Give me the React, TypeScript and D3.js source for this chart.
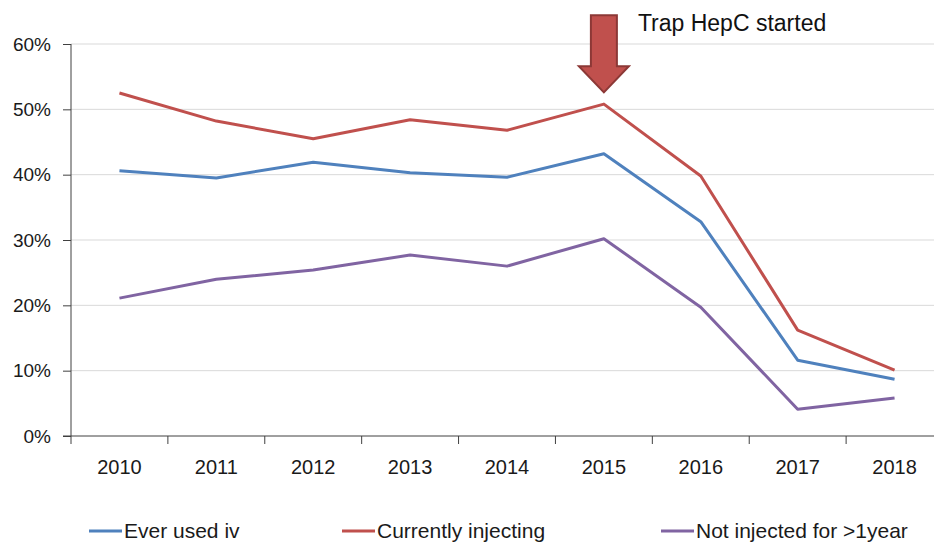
import * as d3 from 'd3';
import { useEffect, useRef } from 'react';

const years = ['2010', '2011', '2012', '2013', '2014', '2015', '2016', '2017', '2018'];
const everUsedIv = [40.6, 39.5, 41.9, 40.3, 39.6, 43.2, 32.8, 11.6, 8.7];
const currentlyInjecting = [52.5, 48.2, 45.5, 48.4, 46.8, 50.8, 39.8, 16.2, 10.1];
const notInjected1Year = [21.1, 24.0, 25.4, 27.7, 26.0, 30.2, 19.7, 4.1, 5.8];
const yTicks = [0, 10, 20, 30, 40, 50, 60];

const seriesNames = ['Ever used iv', 'Currently injecting', 'Not injected for >1year'];
const seriesColors = ['#4F81BD', '#C0504D', '#8064A2'];

const annotationYear = '2015';
const annotationText = 'Trap HepC started';

const W = 934;
const H = 542;
const FONT = '"Liberation Sans", Arial, sans-serif';

export default function App() {
  const svgRef = useRef<SVGSVGElement | null>(null);

  useEffect(() => {
    if (!svgRef.current) return;
    const svg = d3.select(svgRef.current);
    svg.selectAll('*').remove();

    const left = 71;
    const right = 943;
    const top = 44;
    const bottom = 436;

    const x = d3.scaleBand().domain(years).range([left, right]).paddingInner(0).paddingOuter(0);
    const y = d3.scaleLinear().domain([0, 60]).range([bottom, top]);
    const cx = (d: string) => (x(d) as number) + x.bandwidth() / 2;

    // gridlines
    svg
      .append('g')
      .selectAll('line')
      .data(yTicks.filter((t) => t > 0))
      .enter()
      .append('line')
      .attr('x1', left)
      .attr('x2', W)
      .attr('y1', (d) => y(d))
      .attr('y2', (d) => y(d))
      .attr('stroke', '#D9D9D9')
      .attr('stroke-width', 1);

    // y axis
    const yAxis = d3
      .axisLeft(y)
      .tickValues(yTicks)
      .tickSize(8)
      .tickPadding(12)
      .tickFormat((d) => `${d}%`);
    const gy = svg.append('g').attr('transform', `translate(${left},0)`).call(yAxis);
    gy.select('.domain').attr('stroke', '#404040').attr('d', `M0,${top}V${bottom}`);
    gy.selectAll('.tick line').attr('stroke', '#404040');
    gy.selectAll('text')
      .attr('font-family', FONT)
      .attr('font-size', 19)
      .attr('fill', '#1a1a1a');

    // x axis
    const gx = svg.append('g').attr('transform', `translate(0,${bottom})`);
    gx.append('line')
      .attr('x1', left - 8)
      .attr('x2', W)
      .attr('y1', 0)
      .attr('y2', 0)
      .attr('stroke', '#404040');
    gx.selectAll('.tk')
      .data(years)
      .enter()
      .append('line')
      .attr('class', 'tk')
      .attr('x1', (d) => x(d) as number)
      .attr('x2', (d) => x(d) as number)
      .attr('y1', 0)
      .attr('y2', 8)
      .attr('stroke', '#404040');
    gx.selectAll('text')
      .data(years)
      .enter()
      .append('text')
      .attr('x', (d) => cx(d))
      .attr('y', 38)
      .attr('text-anchor', 'middle')
      .attr('font-family', FONT)
      .attr('font-size', 20)
      .attr('fill', '#1a1a1a')
      .text((d) => d);

    // lines
    const allSeries = [everUsedIv, currentlyInjecting, notInjected1Year];
    const line = d3
      .line<number>()
      .x((_, i) => cx(years[i]))
      .y((d) => y(d));
    allSeries.forEach((vals, i) => {
      svg
        .append('path')
        .datum(vals)
        .attr('d', line)
        .attr('fill', 'none')
        .attr('stroke', seriesColors[i])
        .attr('stroke-width', 3)
        .attr('stroke-linejoin', 'round');
    });

    // annotation arrow
    const ax = cx(annotationYear);
    const aTop = y(64.4);
    const aHead = y(56.6);
    const aTip = y(52.6);
    const sw = 13;
    const hw = 25;
    const arrow = d3.path();
    arrow.moveTo(ax - sw, aTop);
    arrow.lineTo(ax + sw, aTop);
    arrow.lineTo(ax + sw, aHead);
    arrow.lineTo(ax + hw, aHead);
    arrow.lineTo(ax, aTip);
    arrow.lineTo(ax - hw, aHead);
    arrow.lineTo(ax - sw, aHead);
    arrow.closePath();
    svg
      .append('path')
      .attr('d', arrow.toString())
      .attr('fill', '#C0504D')
      .attr('stroke', '#8C3836')
      .attr('stroke-width', 2)
      .attr('stroke-linejoin', 'miter');
    svg
      .append('text')
      .attr('x', ax + 34)
      .attr('y', 31)
      .attr('font-family', FONT)
      .attr('font-size', 23)
      .attr('fill', '#111')
      .text(annotationText);

    // legend
    const legendX = [89, 342, 661];
    const ly = 531;
    const lg = svg.append('g');
    seriesNames.forEach((name, i) => {
      lg.append('line')
        .attr('x1', legendX[i])
        .attr('x2', legendX[i] + 33)
        .attr('y1', ly)
        .attr('y2', ly)
        .attr('stroke', seriesColors[i])
        .attr('stroke-width', 3);
      lg.append('text')
        .attr('x', legendX[i] + 35)
        .attr('y', ly + 7)
        .attr('font-family', FONT)
        .attr('font-size', 21)
        .attr('fill', '#1a1a1a')
        .text(name);
    });
  }, []);

  return (
    <svg
      ref={svgRef}
      width={W}
      height={H}
      style={{ position: 'absolute', left: 0, top: 0, background: '#fff' }}
    />
  );
}
